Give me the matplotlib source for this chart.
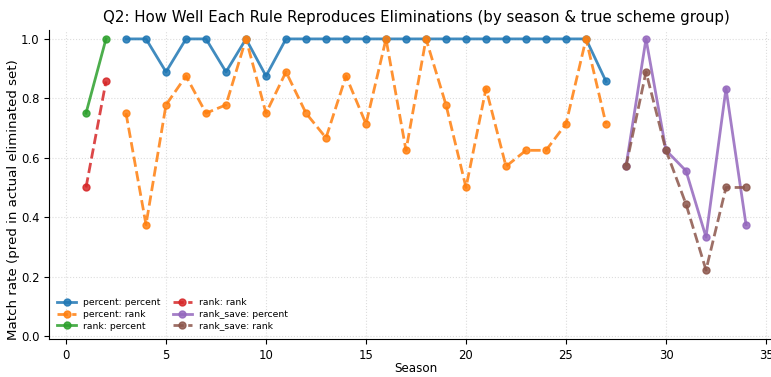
import matplotlib
matplotlib.use('Agg')
import matplotlib.pyplot as plt

# per-season match rates, grouped by (rule: true scheme)
pp_seasons = list(range(3, 28))
pp_vals = [1, 1, 0.889, 1, 1, 0.889, 1, 0.875, 1, 1, 1, 1, 1, 1, 1, 1, 1, 1, 1, 1, 1, 1, 1, 1, 0.857]

pr_seasons = list(range(3, 28))
pr_vals = [0.75, 0.375, 0.778, 0.875, 0.75, 0.778, 1, 0.75, 0.889, 0.75, 0.667, 0.875, 0.714,
           1, 0.625, 1, 0.778, 0.5, 0.833, 0.571, 0.625, 0.625, 0.714, 1, 0.714]

rp_seasons = [1, 2]
rp_vals = [0.75, 1.0]

rr_seasons = [1, 2]
rr_vals = [0.5, 0.857]

rsp_seasons = [28, 29, 30, 31, 32, 33, 34]
rsp_vals = [0.571, 1.0, 0.625, 0.556, 0.333, 0.833, 0.375]

rsr_seasons = [28, 29, 30, 31, 32, 33, 34]
rsr_vals = [0.571, 0.889, 0.625, 0.444, 0.222, 0.5, 0.5]

series = [
    ('percent: percent', pp_seasons, pp_vals, 'tab:blue', '-'),
    ('percent: rank', pr_seasons, pr_vals, 'tab:orange', '--'),
    ('rank: percent', rp_seasons, rp_vals, 'tab:green', '-'),
    ('rank: rank', rr_seasons, rr_vals, 'tab:red', '--'),
    ('rank_save: percent', rsp_seasons, rsp_vals, 'tab:purple', '-'),
    ('rank_save: rank', rsr_seasons, rsr_vals, 'tab:brown', '--'),
]

fig = plt.figure(figsize=(7.71, 3.77), dpi=100)
ax = fig.add_axes([49 / 771, 1 - 339 / 377, 734 / 771, 309 / 377])

for label, xs, ys, color, ls in series:
    ax.plot(xs, ys, color=color, ls=ls, lw=2, marker='o', markersize=5, alpha=0.85, label=label)

ax.set_xlim(-0.85, 35.85)
ax.set_ylim(-0.01, 1.03)
ax.set_yticks([0.0, 0.2, 0.4, 0.6, 0.8, 1.0])
ax.set_xticks([0, 5, 10, 15, 20, 25, 30, 35])
ax.tick_params(labelsize=8.4)
ax.grid(True, ls=':', color='#dddddd', lw=0.8)
ax.spines['top'].set_visible(False)
ax.spines['right'].set_visible(False)
ax.set_xlabel('Season', fontsize=8.6, labelpad=0)
ax.set_ylabel('Match rate (pred in actual eliminated set)', fontsize=9.6)
ax.yaxis.set_label_coords(-29 / 734, (339 - 200) / 309)
ax.set_title('Q2: How Well Each Rule Reproduces Eliminations (by season & true scheme group)', fontsize=10.8)
ax.legend(ncol=2, fontsize=6.7, loc='lower left', frameon=False, labelspacing=0.3,
          columnspacing=1.3, bbox_to_anchor=(0.0, 0.0))

fig.savefig('out.png', dpi=100)
